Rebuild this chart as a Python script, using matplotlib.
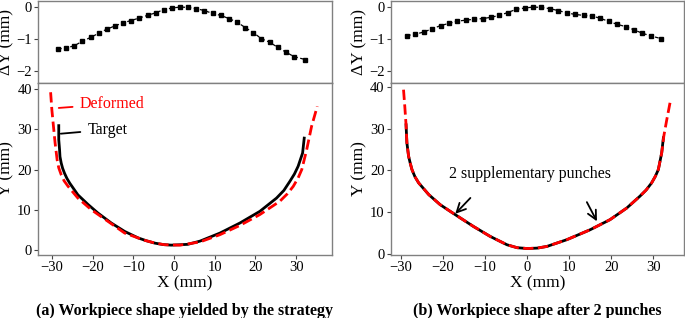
import matplotlib
matplotlib.use("Agg")
import matplotlib.pyplot as plt

plt.rcParams['font.family'] = ['Liberation Serif', 'DejaVu Serif']

# --- top panels: deviation dY along the part (mm) ---
dy_x_a = [-28.5, -26.5, -24.5, -22.5, -20.5, -18.5, -16.5, -14.5, -12.5, -10.5, -8.5,
          -6.5, -4.5, -2.5, -0.5, 1.5, 3.5, 5.5, 7.5, 9.5, 11.5, 13.5, 15.5, 17.5,
          19.5, 21.5, 23.5, 25.5, 27.5, 29.5, 32.2]
dy_a = [-1.31, -1.28, -1.21, -1.07, -0.95, -0.82, -0.69, -0.59, -0.49, -0.42, -0.34,
        -0.26, -0.18, -0.08, -0.03, 0.0, -0.01, -0.05, -0.11, -0.20, -0.26, -0.36,
        -0.47, -0.64, -0.80, -0.99, -1.10, -1.26, -1.41, -1.55, -1.64]

dy_x_b = [-28.6, -26.6, -24.6, -22.6, -20.6, -18.6, -16.6, -14.6, -12.6, -10.6, -8.6,
          -6.6, -4.6, -2.6, -0.6, 1.4, 3.4, 5.4, 7.4, 9.4, 11.4, 13.4, 15.4, 17.4,
          19.4, 21.4, 23.4, 25.4, 27.4, 29.4, 31.9]
dy_b = [-0.89, -0.85, -0.78, -0.68, -0.58, -0.51, -0.44, -0.41, -0.38, -0.36, -0.32,
        -0.26, -0.17, -0.07, -0.03, 0.0, -0.01, -0.05, -0.11, -0.18, -0.23, -0.26,
        -0.28, -0.35, -0.45, -0.54, -0.61, -0.71, -0.82, -0.90, -0.99]

# --- bottom panel (a): target vs deformed profile ---
tgt_x_a = [-28.3, -28.3, -28.1, -28.0, -27.7, -27.35, -26.9, -26.3, -25.6, -23.6, -21.1,
           -18.7, -15.4, -12.1, -8.8, -6.8, -4.7, -2.7, -0.7, 1.5, 3.4, 6.4, 11.3,
           16.2, 21.1, 25.2, 27.0, 28.5, 29.6, 30.5, 31.6, 32.0]
tgt_y_a = [30.9, 27.4, 24.9, 23.2, 21.6, 20.3, 19.1, 17.8, 16.6, 13.7, 11.3,
           9.2, 6.7, 4.6, 3.0, 2.3, 1.7, 1.35, 1.2, 1.3, 1.4, 2.2, 4.2,
           6.7, 9.6, 12.9, 14.8, 17.1, 18.9, 20.8, 24.1, 27.8]
def_x_a = [-30.3, -30.0, -29.6, -29.2, -28.7, -28.3, -27.7, -27.0, -26.0, -23.6, -20.3,
           -16.2, -12.1, -7.2, -4.6, -2.3, 1.5, 6.4, 11.3, 16.2, 21.1, 26.0, 27.8,
           29.3, 30.5, 31.4, 32.6, 33.8, 35.2]
def_y_a = [39.2, 34.9, 30.7, 26.6, 22.4, 20.4, 18.7, 17.2, 15.8, 12.9, 10.0,
           7.1, 4.2, 2.4, 1.7, 1.3, 1.2, 2.0, 3.8, 6.1, 8.8, 12.1, 13.9,
           15.8, 17.9, 20.0, 24.9, 30.7, 35.7]

# --- bottom panel (b): after 2 supplementary punches ---
tgt_x_b = [-28.8, -28.6, -28.2, -27.8, -27.4, -26.7, -25.8, -23.4, -20.7, -17.1, -12.8,
           -8.8, -4.8, -2.4, 0.0, 2.4, 4.7, 9.4, 15.0, 19.7, 23.7, 26.8, 28.3, 29.6,
           30.5, 31.2, 32.0, 32.4]
tgt_y_b = [30.9, 26.6, 23.4, 21.7, 20.2, 18.5, 17.0, 14.2, 11.8, 9.4, 6.6,
           4.2, 2.2, 1.5, 1.3, 1.4, 1.8, 3.4, 5.8, 8.2, 11.0, 13.8, 15.3, 17.0,
           18.6, 20.2, 24.2, 27.8]
def_x_b = [-29.4, -29.1, -28.8, -28.6, -28.2, -27.8, -27.4, -26.7, -25.8, -23.4, -20.7,
           -17.1, -12.8, -8.8, -4.8, -2.4, 0.0, 2.4, 4.7, 9.4, 15.0, 19.7, 23.7,
           26.8, 28.3, 29.6, 30.5, 31.2, 32.0, 32.5, 33.2, 34.0]
def_y_b = [39.3, 35.3, 30.9, 26.6, 23.4, 21.7, 20.2, 18.5, 17.0, 14.2, 11.8,
           9.4, 6.6, 4.2, 2.2, 1.5, 1.3, 1.4, 1.8, 3.4, 5.8, 8.2, 11.0,
           13.8, 15.3, 17.0, 18.6, 20.2, 24.2, 28.2, 32.1, 36.3]

xticks = [-30, -20, -10, 0, 10, 20, 30]
yticks = [0, 10, 20, 30, 40]
dyticks = [0, -1, -2]
captions = ["(a) Workpiece shape yielded by the strategy",
            "(b) Workpiece shape after 2 punches"]

W, H = 685, 318
fig = plt.figure(figsize=(W / 100, H / 100), dpi=100)


def frac(x0, x1, ytop, ybot):
    return [x0 / W, 1 - ybot / H, (x1 - x0) / W, (ybot - ytop) / H]


panels = [
    dict(x0=38, x1=331.5, xlim=(-33.4, 38.7), ylim=(-1.25, 41.5),
         dx=dy_x_a, dy=dy_a, tx=tgt_x_a, ty=tgt_y_a, fx=def_x_a, fy=def_y_a),
    dict(x0=390.7, x1=684, xlim=(-32.45, 37.3), ylim=(-0.25, 40.9),
         dx=dy_x_b, dy=dy_b, tx=tgt_x_b, ty=tgt_y_b, fx=def_x_b, fy=def_y_b),
]

spine_col = "#808080"


def style(ax):
    for s in ax.spines.values():
        s.set_color(spine_col)
        s.set_linewidth(1.0)
    ax.tick_params(direction="out", length=3, width=0.8, color="#444444",
                   labelsize=10.5, pad=1.5)


for i, p in enumerate(panels):
    top = fig.add_axes(frac(p["x0"], p["x1"], 1, 83))
    bot = fig.add_axes(frac(p["x0"], p["x1"], 83, 255))
    width = p["x1"] - p["x0"]

    top.plot(p["dx"], p["dy"], "--", color="black", lw=0.9, marker="s", ms=3.0,
             dashes=(3, 2))
    top.set_xlim(p["xlim"])
    top.set_ylim(-2.375, 0.19)
    top.set_yticks(dyticks)
    top.set_xticks([])
    top.set_ylabel("ΔY (mm)", fontsize=12.5)
    top.yaxis.set_label_coords(-23.5 / width, 0.5)
    style(top)

    bot.plot(p["tx"], p["ty"], "-", color="black", lw=2.0, zorder=2)
    bot.plot(p["fx"], p["fy"], "--", color="red", lw=2.0, zorder=3)
    bot.set_xlim(p["xlim"])
    bot.set_ylim(p["ylim"])
    bot.set_xticks(xticks)
    bot.set_yticks(yticks)
    bot.set_xlabel("X (mm)", fontsize=12.5, labelpad=1)
    bot.set_ylabel("Y (mm)", fontsize=12.5)
    bot.yaxis.set_label_coords(-23.5 / width, 0.5)
    style(bot)

    if i == 0:
        bot.annotate("Deformed", xy=(-28.3, 35.3), xytext=(-23.2, 36.3),
                     color="red", fontsize=11.5, va="center", ha="left",
                     arrowprops=dict(arrowstyle="-", color="red", lw=1.3,
                                     shrinkA=3, shrinkB=0))
        bot.annotate("Target", xy=(-27.8, 28.9), xytext=(-21.3, 29.9),
                     color="black", fontsize=11.5, va="center", ha="left",
                     arrowprops=dict(arrowstyle="-", color="black", lw=1.3,
                                     shrinkA=3, shrinkB=0))
    else:
        bot.text(0.7, 19.2, "2 supplementary punches", fontsize=11.5,
                 ha="center", va="center")
        bot.annotate("", xy=(-17.1, 9.6), xytext=(-13.5, 13.4),
                     arrowprops=dict(arrowstyle="->", color="black", lw=1.3,
                                     mutation_scale=16, shrinkA=0, shrinkB=0))
        bot.annotate("", xy=(16.6, 7.8), xytext=(14.2, 12.4),
                     arrowprops=dict(arrowstyle="->", color="black", lw=1.3,
                                     mutation_scale=16, shrinkA=0, shrinkB=0))

    cx = (p["x0"] + p["x1"]) / 2 / W
    fig.text(cx, 1 - 311 / H, captions[i], ha="center", va="center",
             fontsize=11.5, fontweight="bold")

fig.savefig("out.png", dpi=100)
